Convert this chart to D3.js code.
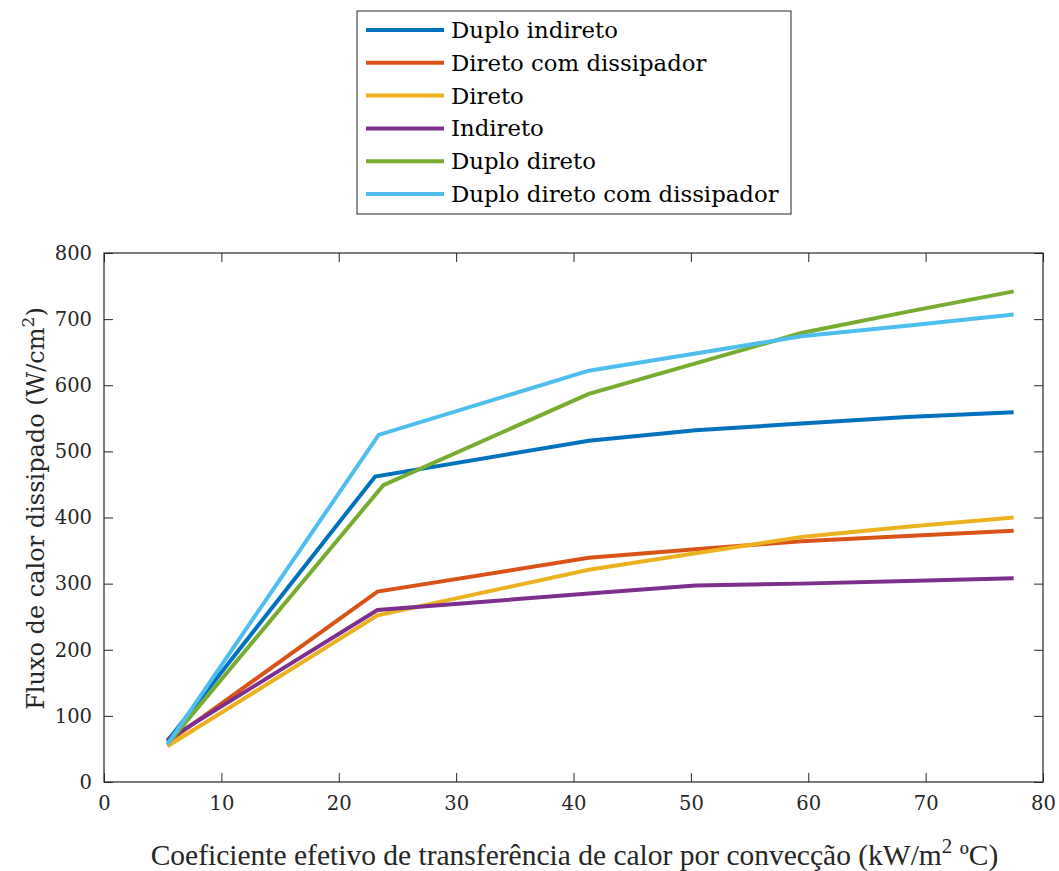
<!DOCTYPE html>
<html><head><meta charset="utf-8">
<script src="https://cdn.jsdelivr.net/npm/d3@7"></script>
<style>body{margin:0;background:#fff}svg{display:block}</style>
</head><body>
<svg id="c" width="1059" height="871"></svg>
<script>
const seriesNames = ["Duplo indireto","Direto com dissipador","Direto","Indireto","Duplo direto","Duplo direto com dissipador"];
const seriesColors = ["#0072BD","#D95319","#EDB120","#7E2F8E","#77AC30","#4DBEEE"];
const xDuploIndireto = [5.4, 23.1, 41.3, 50.4, 59.4, 68.4, 77.5];
const yDuploIndireto = [62, 462, 516, 532, 542, 552, 559];
const xDiretoDiss = [5.4, 23.3, 41.3, 50.4, 59.4, 68.4, 77.5];
const yDiretoDiss = [60, 288, 339, 352, 364, 372, 380];
const xDireto = [5.4, 23.3, 41.3, 50.4, 59.6, 68.4, 77.5];
const yDireto = [54, 252, 321, 346, 371, 386, 400];
const xIndireto = [5.4, 23.3, 41.3, 50.4, 59.4, 68.4, 77.5];
const yIndireto = [64, 260, 285, 297, 300, 304, 308];
const xDuploDireto = [5.4, 23.8, 41.3, 50.4, 59.4, 68.4, 77.5];
const yDuploDireto = [57, 449, 587, 633, 679, 711, 742];
const xDuploDiretoDiss = [5.4, 23.4, 41.3, 50.4, 59.4, 68.4, 77.5];
const yDuploDiretoDiss = [57, 525, 622, 648, 674, 690, 707];
const xTicks = [0,10,20,30,40,50,60,70,80];
const yTicks = [0,100,200,300,400,500,600,700,800];

const allX = [xDuploIndireto,xDiretoDiss,xDireto,xIndireto,xDuploDireto,xDuploDiretoDiss];
const allY = [yDuploIndireto,yDiretoDiss,yDireto,yIndireto,yDuploDireto,yDuploDiretoDiss];

const svg = d3.select("#c");
const L=104,R=1043,T=253,B=782;
const x = d3.scaleLinear().domain([0,80]).range([L,R]);
const y = d3.scaleLinear().domain([0,800]).range([B,T]);
const axCol="#262626";
const tickFont="DejaVu Serif";

const gx = svg.append("g").attr("transform",`translate(0,${B})`)
  .call(d3.axisBottom(x).tickValues(xTicks).tickSize(-9).tickPadding(14).tickFormat(d3.format("d")));
const gxt = svg.append("g").attr("transform",`translate(0,${T})`)
  .call(d3.axisTop(x).tickValues(xTicks).tickSize(-9).tickFormat(""));
const gy = svg.append("g").attr("transform",`translate(${L},0)`)
  .call(d3.axisLeft(y).tickValues(yTicks).tickSize(-9).tickPadding(12).tickFormat(d3.format("d")));
const gyr = svg.append("g").attr("transform",`translate(${R},0)`)
  .call(d3.axisRight(y).tickValues(yTicks).tickSize(-9).tickFormat(""));
[gx,gxt,gy,gyr].forEach(g=>{
  g.select(".domain").remove();
  g.selectAll("line").attr("stroke",axCol).attr("stroke-width",1);
  g.selectAll("text").attr("fill",axCol).style("font-family",tickFont).style("font-size","19.5px");
});
svg.append("rect").attr("x",L).attr("y",T).attr("width",R-L).attr("height",B-T)
  .attr("fill","none").attr("stroke",axCol).attr("stroke-width",1.2);

const line = d3.line().x(d=>x(d[0])).y(d=>y(d[1]));
seriesNames.forEach((n,i)=>{
  const pts = allX[i].map((v,j)=>[v,allY[i][j]]);
  svg.append("path").datum(pts).attr("d",line).attr("fill","none")
    .attr("stroke",seriesColors[i]).attr("stroke-width",4).attr("stroke-linejoin","miter");
});

// Legend
const lg = svg.append("g");
lg.append("rect").attr("x",357).attr("y",11).attr("width",434).attr("height",203)
  .attr("fill","#fff").attr("stroke",axCol).attr("stroke-width",1);
seriesNames.forEach((n,i)=>{
  const yy = 30 + i*32.8;
  lg.append("line").attr("x1",366).attr("x2",444).attr("y1",yy).attr("y2",yy)
    .attr("stroke",seriesColors[i]).attr("stroke-width",4);
  lg.append("text").attr("x",451).attr("y",yy+8).text(n)
    .style("font-family",tickFont).style("font-size","22.8px").attr("fill","#000");
});

// Axis labels
const xl = svg.append("text").attr("x",(L+R)/2+1).attr("y",865).attr("text-anchor","middle")
  .style("font-family","Liberation Serif").style("font-size","29.5px").attr("fill",axCol);
xl.append("tspan").text("Coeficiente efetivo de transferência de calor por convecção (kW/m");
xl.append("tspan").attr("dy",-12).style("font-size","21px").text("2");
xl.append("tspan").attr("dy",12).text(" ºC)");

const yl = svg.append("text").attr("transform",`translate(44,${(T+B)/2-9}) rotate(-90)`).attr("text-anchor","middle")
  .style("font-family",tickFont).style("font-size","24px").attr("fill",axCol);
yl.append("tspan").text("Fluxo de calor dissipado (W/cm");
yl.append("tspan").attr("dy",-10).style("font-size","17px").text("2");
yl.append("tspan").attr("dy",10).text(")");
</script>
</body></html>
